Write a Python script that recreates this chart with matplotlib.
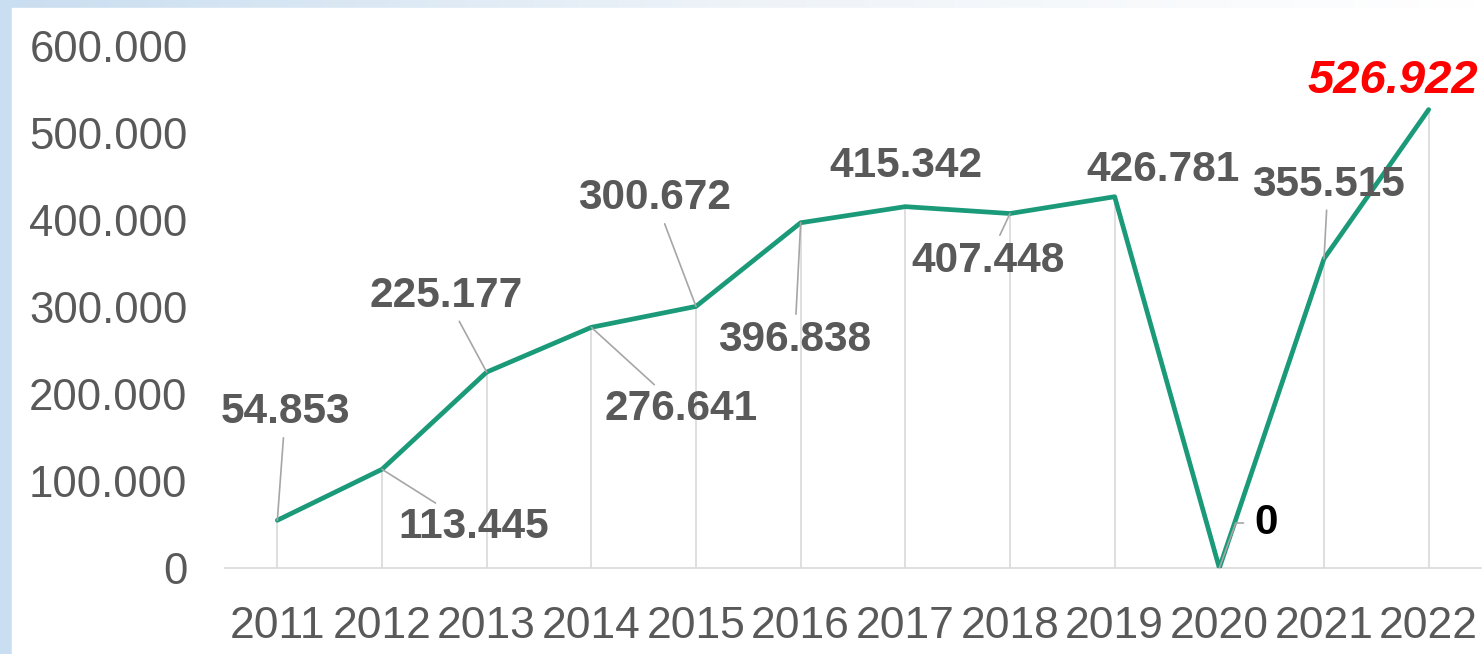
import numpy as np
import matplotlib
matplotlib.use("Agg")
import matplotlib.pyplot as plt
from matplotlib.patches import Rectangle

plt.rcParams['font.family'] = ['Liberation Sans', 'DejaVu Sans']

# dữ liệu
nam = ['2011', '2012', '2013', '2014', '2015', '2016',
       '2017', '2018', '2019', '2020', '2021', '2022']
gia_tri = [54853, 113445, 225177, 276641, 300672, 396838,
           415342, 407448, 426781, 0, 355515, 526922]
y_ticks = [0, 100000, 200000, 300000, 400000, 500000, 600000]

# vị trí nhãn so với điểm (pixel) và có vẽ đường dẫn hay không
nhan_dx = [8, 92, -41, 90, -41, -6, 1, -22, 48, 47, 4, -36]
nhan_dy = [108, -58, 76, -82, 108, -117, 41, -47, 27, 45, 74, 29]
co_duong = [True, True, True, True, True, True, False, True, False, True, True, False]


def dinh_dang(v):
    return f"{v:,}".replace(',', '.')


fig = plt.figure(figsize=(14.83, 6.54), dpi=100)

# nền gradient xanh nhạt ở mép trái
bg = fig.add_axes([0, 0, 1, 1], zorder=-10)
grad = np.linspace(0, 1, 300)[None, :]
bg.imshow(grad, aspect='auto', cmap=matplotlib.colors.LinearSegmentedColormap.from_list(
    'nen', ['#c9def0', '#eef3f8', '#ffffff']), extent=[0, 1, 0, 1])
bg.add_patch(Rectangle((12 / 1483, 0), 1, 646 / 654, color='white', transform=bg.transAxes))
bg.set_xlim(0, 1)
bg.set_ylim(0, 1)
bg.axis('off')

ax = fig.add_axes([225 / 1483, 86 / 654, 1256 / 1483, 522 / 654])
ax.patch.set_alpha(0)
x = np.arange(len(nam))

ax.vlines(x, 0, gia_tri, color='#d9d9d9', lw=1.2, zorder=1)
ax.plot(x, gia_tri, color='#1a9a78', lw=3.4, solid_capstyle='round', zorder=3)

for i, v in enumerate(gia_tri):
    mau = '#595959'
    kieu = 'normal'
    co = 30.5
    if v == 0:
        mau = 'black'
    if i == len(gia_tri) - 1:
        mau = '#ff0000'
        kieu = 'italic'
        co = 34
    props = None
    if co_duong[i]:
        props = dict(arrowstyle='-', color='#a6a6a6', lw=1.2, shrinkA=2, shrinkB=0)
        if v == 0:
            # đường dẫn gãy khúc cho nhãn 0
            props['connectionstyle'] = 'angle,angleA=0,angleB=70,rad=0'
            props['shrinkA'] = 6
    ax.annotate(dinh_dang(v), (i, v), xytext=(nhan_dx[i], nhan_dy[i]),
                textcoords='offset pixels', ha='center', va='center',
                fontsize=co, fontweight='bold', fontstyle=kieu, color=mau,
                arrowprops=props, zorder=4)

ax.set_xlim(-0.5, len(nam) - 0.5)
ax.set_ylim(0, 600000)
ax.set_xticks(x)
ax.set_xticklabels(nam)
ax.set_yticks(y_ticks)
ax.set_yticklabels([dinh_dang(t) for t in y_ticks])
ax.tick_params(axis='x', length=0, labelsize=32, colors='#595959', pad=27)
ax.tick_params(axis='y', length=0, labelsize=31.5, colors='#595959', pad=27)
for s in ['top', 'right', 'left']:
    ax.spines[s].set_visible(False)
ax.spines['bottom'].set_color('#d9d9d9')
ax.spines['bottom'].set_linewidth(1.2)

fig.savefig('out.png', dpi=100)
